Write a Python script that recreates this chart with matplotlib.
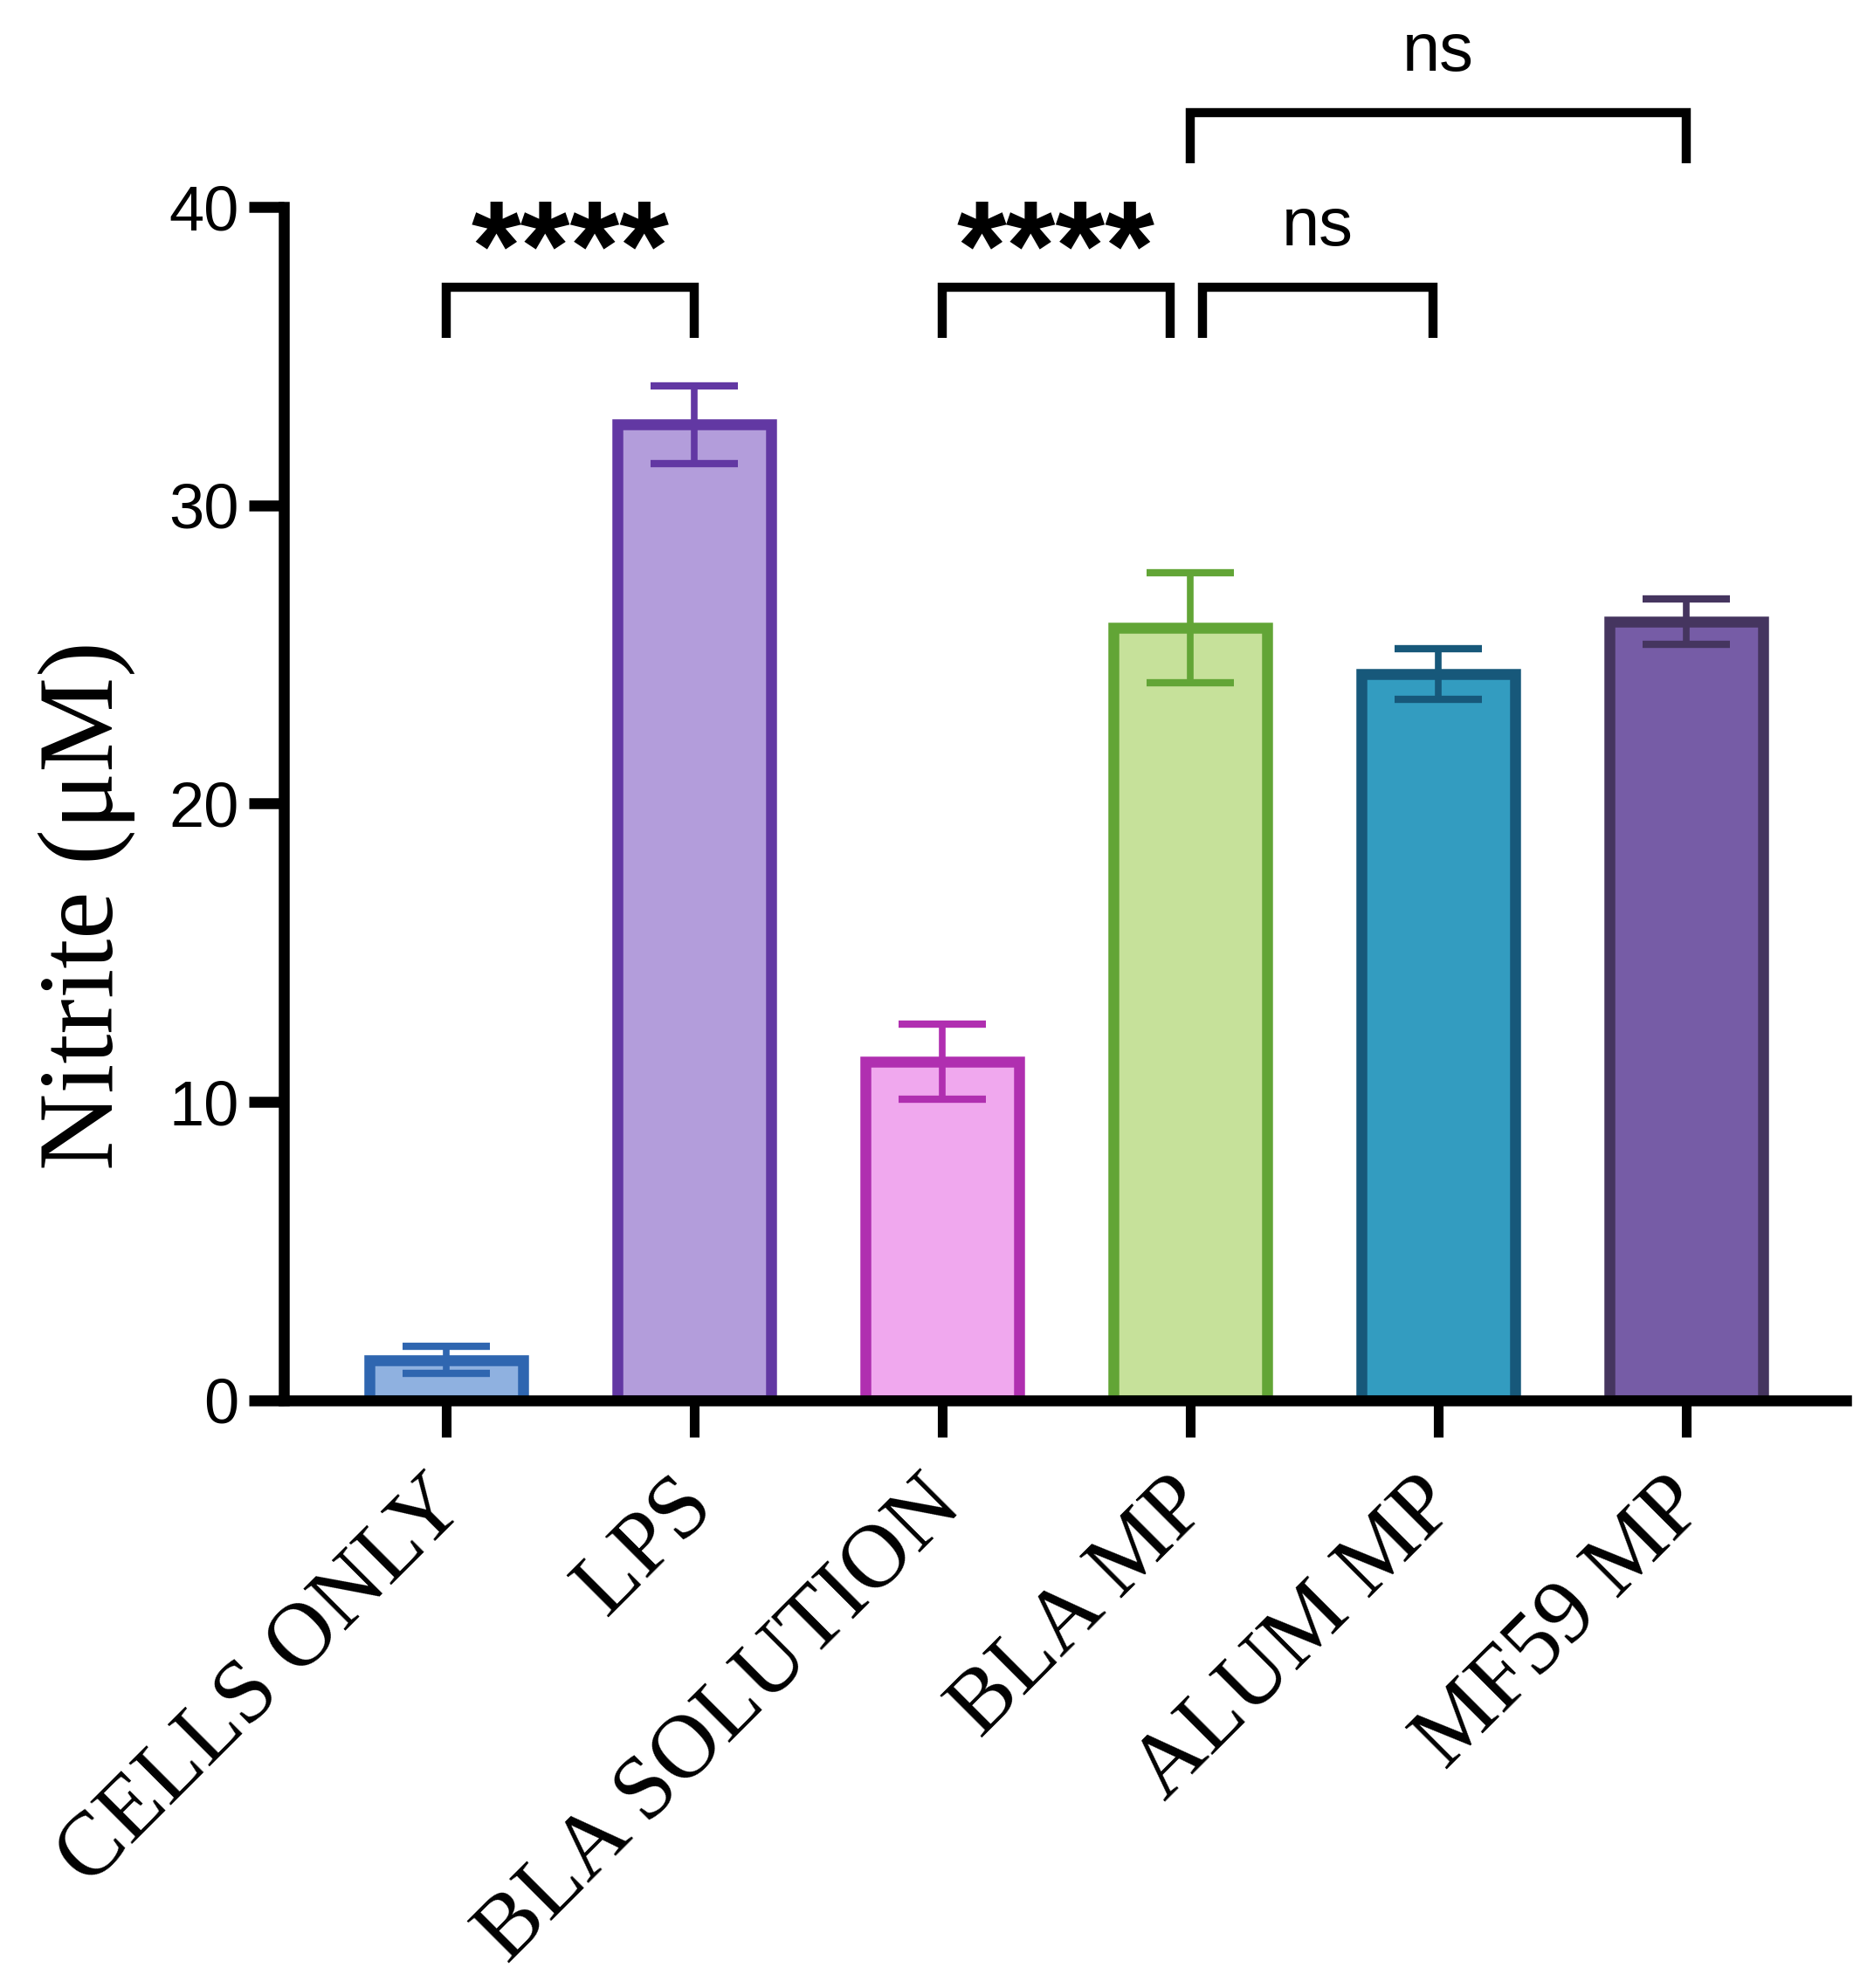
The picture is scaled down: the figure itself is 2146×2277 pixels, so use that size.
import matplotlib.pyplot as plt
import matplotlib.transforms as mtransforms
import numpy as np

plt.rcParams.update(
    {
        "font.family": "Liberation Sans",
        "axes.linewidth": 9,
    }
)

# Nitrite readings (uM), mean and error
groups = ["CELLS ONLY", "LPS", "BLA SOLUTION", "BLA MP", "ALUM MP", "MF59 MP"]
nitrite_mean = [1.35, 32.7, 11.35, 25.9, 24.35, 26.1]
nitrite_err = [0.45, 1.3, 1.25, 1.85, 0.85, 0.75]

face_colors = ["#8fb1e0", "#b39ddb", "#f0a8ee", "#c6e19a", "#339cc0", "#765ca6"]
edge_colors = ["#2f66b0", "#6238a3", "#b02fb0", "#62a536", "#17587a", "#45355f"]

# significance brackets: left x, right x, bar height, leg bottom, label
bracket_left = [0, 2, 3.05, 3]
bracket_right = [1, 2.92, 3.98, 5]
bracket_top = [37.3, 37.3, 37.3, 43.15]
bracket_leg = [35.6, 35.6, 35.6, 41.45]
bracket_label = ["****", "****", "ns", "ns"]

fig = plt.figure(figsize=(21.46, 22.77), dpi=100)
ax = fig.add_axes([0.1514, 0.2956, 0.8336, 0.6003])

x = np.arange(len(groups))
ax.bar(
    x,
    nitrite_mean,
    width=0.62,
    color=face_colors,
    edgecolor=edge_colors,
    linewidth=9,
    zorder=2,
)
for xi, m, e, c in zip(x, nitrite_mean, nitrite_err, edge_colors):
    ax.errorbar(
        xi, m, yerr=e, fmt="none", ecolor=c, elinewidth=5.5,
        capsize=36, capthick=6, zorder=3,
    )

for xl, xr, yt, yl, lab in zip(bracket_left, bracket_right, bracket_top,
                               bracket_leg, bracket_label):
    ax.plot([xl, xl, xr, xr], [yl, yt, yt, yl], color="black", lw=7.5,
            solid_capstyle="butt", solid_joinstyle="miter",
            clip_on=False, zorder=4)
    if lab == "ns":
        ax.text((xl + xr) / 2, yt + 0.95, lab, ha="center", va="bottom",
                fontsize=56, clip_on=False)
    else:
        ax.text((xl + xr) / 2, yt - 0.95, lab, ha="center", va="bottom",
                fontsize=105, fontweight="bold", clip_on=False)

ax.set_xlim(-0.655, 5.644)
ax.set_ylim(0, 40)
ax.set_yticks([0, 10, 20, 30, 40])
ax.spines["top"].set_visible(False)
ax.spines["right"].set_visible(False)

ax.tick_params(axis="y", length=29, width=9, labelsize=52, pad=8)
ax.tick_params(axis="x", length=30, width=8, pad=22)
ax.set_xticks(x)
ax.set_xticklabels(groups, rotation=45, ha="right", va="top",
                   rotation_mode="anchor", fontsize=74,
                   family="Liberation Serif")
shift = mtransforms.ScaledTranslation(-0.26, 0, fig.dpi_scale_trans)
for lbl in ax.get_xticklabels():
    lbl.set_transform(lbl.get_transform() + shift)

ax.set_ylabel("Nitrite (μM)", family="Liberation Serif", fontsize=88)
ax.yaxis.set_label_coords(-0.095, 0.415)

fig.savefig("out.png", dpi=100)
